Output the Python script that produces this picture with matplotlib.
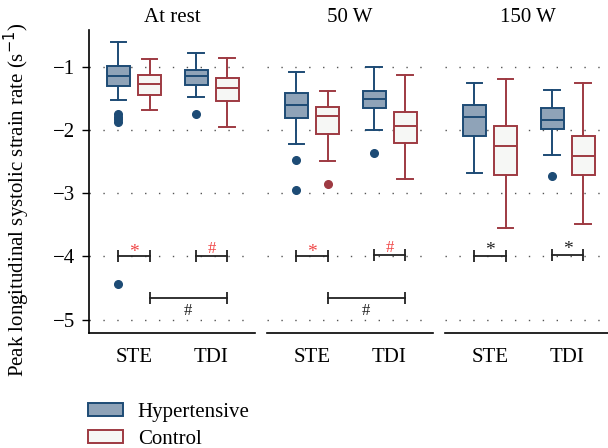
import matplotlib
matplotlib.use("Agg")
import matplotlib.pyplot as plt
from matplotlib.patches import Patch

plt.rcParams['font.family'] = ['Liberation Serif', 'DejaVu Serif']

# ---- data ----
panels = ["At rest", "50 W", "150 W"]
methods = ["STE", "TDI"]
groups = ["Hypertensive", "Control"]

# per panel, order: STE-Hyp, STE-Ctrl, TDI-Hyp, TDI-Ctrl
whislo = [[-1.53, -1.69, -1.48, -1.96],
          [-2.23, -2.49, -2.00, -2.77],
          [-2.68, -3.55, -2.39, -3.48]]
q1 = [[-1.30, -1.44, -1.29, -1.55],
      [-1.81, -2.06, -1.66, -2.20],
      [-2.10, -2.71, -1.99, -2.71]]
med = [[-1.14, -1.28, -1.14, -1.33],
       [-1.61, -1.78, -1.51, -1.93],
       [-1.80, -2.26, -1.84, -2.41]]
q3 = [[-0.99, -1.13, -1.05, -1.18],
      [-1.42, -1.64, -1.38, -1.71],
      [-1.61, -1.93, -1.65, -2.09]]
whishi = [[-0.61, -0.88, -0.79, -0.86],
          [-1.09, -1.39, -1.01, -1.13],
          [-1.25, -1.20, -1.37, -1.25]]
fliers = [[[-1.75, -1.79, -1.83, -1.87, -4.44], [], [-1.75], []],
          [[-2.47, -2.95], [-2.85], [-2.36], []],
          [[], [], [-2.73], []]]

# brackets: (panel, from box index, to box index, y, label, colour, label y)
brackets = [
    (0, 0, 1, -4.0, "*", "red", -3.93),
    (0, 2, 3, -4.0, "#", "red", -3.88),
    (0, 1, 3, -4.66, "#", "black", -4.86),
    (1, 0, 1, -4.0, "*", "red", -3.93),
    (1, 2, 3, -3.98, "#", "red", -3.86),
    (1, 1, 3, -4.66, "#", "black", -4.86),
    (2, 0, 1, -3.99, "*", "black", -3.91),
    (2, 2, 3, -3.97, "*", "black", -3.89),
]

# ---- style ----
hyp_fill, hyp_edge = "#8fa3b8", "#1d4b75"
ctl_fill, ctl_edge = "#f6f7f5", "#9e3a42"
red_txt = "#f04646"
positions = [1.0, 2.0, 3.5, 4.5]
xlim = (0.05, 5.40)
FS = 15

fig = plt.figure(figsize=(6.08, 4.48), dpi=100)
bottom, top = 1 - 333 / 448, 1 - 30 / 448
lefts = [89 / 608, 267 / 608, 445 / 608]
w = 166 / 608
axes = [fig.add_axes([l, bottom, w, top - bottom]) for l in lefts]

for p, ax in enumerate(axes):
    for i in range(4):
        stat = dict(whislo=whislo[p][i], q1=q1[p][i], med=med[p][i],
                    q3=q3[p][i], whishi=whishi[p][i], fliers=fliers[p][i])
        edge = hyp_edge if i % 2 == 0 else ctl_edge
        fill = hyp_fill if i % 2 == 0 else ctl_fill
        ax.bxp([stat], positions=[positions[i]], widths=0.74,
               patch_artist=True, showfliers=True,
               boxprops=dict(facecolor=fill, edgecolor=edge, linewidth=1.4),
               medianprops=dict(color=edge, linewidth=1.4),
               whiskerprops=dict(color=edge, linewidth=1.4),
               capprops=dict(color=edge, linewidth=1.4),
               capwidths=0.5,
               flierprops=dict(marker="o", markerfacecolor=edge,
                               markeredgecolor=edge, markersize=5.5))
    for (bp, a, b, y, lab, col, ty) in brackets:
        if bp != p:
            continue
        x1, x2 = positions[a], positions[b]
        ax.plot([x1, x2], [y, y], color="#222222", lw=1.3, zorder=4)
        ax.plot([x1, x2], [y, y], ls="none", marker="|", markersize=8,
                markeredgewidth=1.3, color="#222222", zorder=4)
        c = red_txt if col == "red" else "#222222"
        ax.text((x1 + x2) / 2, ty, lab, color=c, ha="center",
                va="center", fontsize=12 if lab == "#" else 14)

    ax.set_xlim(*xlim)
    ax.set_ylim(-5.21, -0.42)
    ax.set_yticks([-1, -2, -3, -4, -5])
    ax.yaxis.grid(True, linestyle=(0, (1, 9)), color="#555555", linewidth=1.0)
    ax.set_axisbelow(True)
    ax.set_xticks([1.5, 4.0])
    ax.set_xticklabels(methods, fontsize=FS)
    ax.tick_params(axis="x", length=0, pad=11)
    for s in ["top", "right"]:
        ax.spines[s].set_visible(False)
    ax.spines["bottom"].set_linewidth(1.2)
    ax.set_title(panels[p], fontsize=FS, pad=6)
    if p == 0:
        ax.spines["left"].set_linewidth(1.2)
        ax.tick_params(axis="y", length=5, width=1.0, labelsize=FS, pad=5)
        ax.set_yticklabels(["\u22121", "\u22122", "\u22123", "\u22124", "\u22125"])
    else:
        ax.spines["left"].set_visible(False)
        ax.tick_params(axis="y", length=0, labelleft=False)

fig.text(17 / 608, 1 - 200 / 448,
         "Peak longitudinal systolic strain rate (s$^{-1}$)",
         rotation=90, ha="center", va="center", fontsize=15)

handles = [Patch(facecolor=hyp_fill, edgecolor=hyp_edge, linewidth=1.4),
           Patch(facecolor=ctl_fill, edgecolor=ctl_edge, linewidth=1.4)]
fig.legend(handles, groups, loc="lower left", bbox_to_anchor=(0.1135, -0.044),
           frameon=False, fontsize=FS, handlelength=1.7, handleheight=0.55,
           labelspacing=0.4, handletextpad=0.7)

fig.savefig("out.png", dpi=100)
